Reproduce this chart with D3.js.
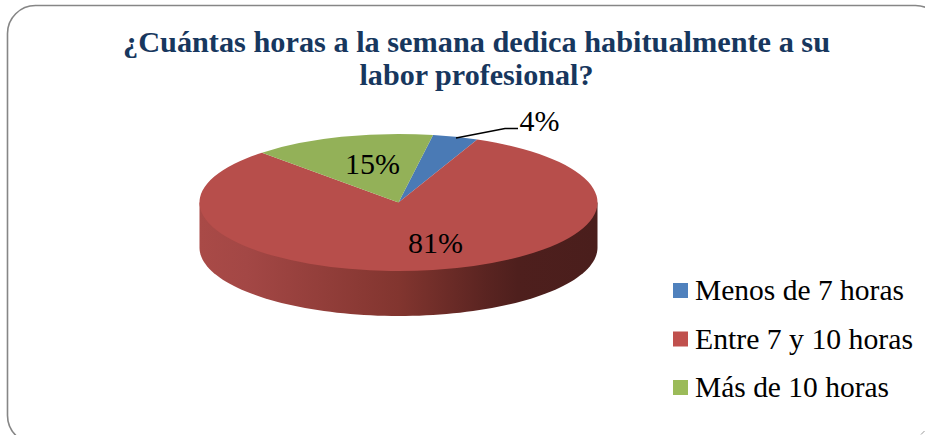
<!DOCTYPE html>
<html><head><meta charset="utf-8">
<script src="https://cdn.jsdelivr.net/npm/d3@7/dist/d3.min.js"></script>
<style>html,body{margin:0;padding:0;background:#fff;overflow:hidden}svg{display:block}text{font-family:"Liberation Serif",serif}</style>
</head><body><svg id="c" width="925" height="435"></svg>
<script>
const titleLines = ["¿Cuántas horas a la semana dedica habitualmente a su", "labor profesional?"];
const categories = ["Menos de 7 horas", "Entre 7 y 10 horas", "Más de 10 horas"];
const values = [3.7, 81.49, 14.81];
const colors = ["#4a7ab5", "#b74e4b", "#93b158"];
const legendColors = ["#4f81bd", "#c0504d", "#9bbb59"];
const sideStops = [[0,"#a94a47"],[0.12,"#a34745"],[0.5,"#82352f"],[0.72,"#5a2421"],[0.8,"#4e1f1d"],[1,"#4a1e1c"]];

(function () {
const svg = d3.select("#c");
const W = 925, H = 435;
const cx = 398.5, cy = 202.5, rx = 199, ry = 68.5, depth = 45;
const deg = Math.PI / 180;

svg.append("rect").attr("width", W).attr("height", H).attr("fill", "#fff");
svg.append("rect").attr("x", 7.5).attr("y", 5.5).attr("width", 936).attr("height", 438).attr("rx", 28).attr("ry", 28)
  .attr("fill", "#fff").attr("stroke", "#868686").attr("stroke-width", 1.6);
svg.append("path").attr("d", d3.line()([[921, 434.5], [924.5, 431]])).attr("stroke", "#999").attr("fill", "none");

const defs = svg.append("defs");
const grad = defs.append("linearGradient").attr("id", "side").attr("x1", 0).attr("x2", 1).attr("y1", 0).attr("y2", 0);
grad.selectAll("stop").data(sideStops).join("stop").attr("offset", d => d[0]).attr("stop-color", d => d[1]);

// side wall: lower half of the ellipse swept down by the depth
const lowerEdge = d3.range(0, 181, 2).map(a => [cx - rx * Math.cos(a * deg), cy + depth + ry * Math.sin(a * deg)]);
const wall = [[cx - rx, cy], ...lowerEdge, [cx + rx, cy]];
svg.append("path").attr("d", d3.line()(wall) + "Z").attr("fill", "url(#side)");

// top face
const pie = d3.pie().sort(null).value(d => d).startAngle(10 * deg).endAngle(370 * deg);
const arcs = pie(values);
const arc = d3.arc().innerRadius(0).outerRadius(rx);
const face = svg.append("g").attr("transform", `translate(${cx},${cy}) scale(1,${ry / rx})`);
face.selectAll("path").data(arcs).join("path").attr("d", arc).attr("fill", (d, i) => colors[i]);

// title
const titleFit = [707, 234];
svg.append("g").selectAll("text").data(titleLines).join("text")
  .attr("x", 476.5).attr("y", (d, i) => 52 + i * 33)
  .attr("text-anchor", "middle").attr("font-size", 29).attr("font-weight", "bold").attr("fill", "#17375e")
  .attr("textLength", (d, i) => titleFit[i]).attr("lengthAdjust", "spacingAndGlyphs")
  .text(d => d);

// data labels
const pct = values.map(v => Math.round(v / d3.sum(values) * 100) + "%");
const labelPos = [[539.5, 131], [435.5, 253], [372.5, 174]];
svg.append("g").selectAll("text").data(pct).join("text")
  .attr("x", (d, i) => labelPos[i][0]).attr("y", (d, i) => labelPos[i][1])
  .attr("text-anchor", "middle").attr("font-size", 30).attr("fill", "#000")
  .text(d => d);
svg.append("path").attr("d", d3.line()([[456, 138], [505, 128.5], [518, 128.5]]))
  .attr("fill", "none").attr("stroke", "#000").attr("stroke-width", 1.6);

// legend
const legendFit = [209, 218, 194];
const lg = svg.append("g").selectAll("g").data(categories).join("g")
  .attr("transform", (d, i) => `translate(673,${283 + i * 48.5})`);
lg.append("rect").attr("width", 15).attr("height", 15).attr("fill", (d, i) => legendColors[i]);
lg.append("text").attr("x", 22).attr("y", 17).attr("font-size", 30).attr("fill", "#000")
  .attr("textLength", (d, i) => legendFit[i]).attr("lengthAdjust", "spacingAndGlyphs").text(d => d);
})();
</script></body></html>
